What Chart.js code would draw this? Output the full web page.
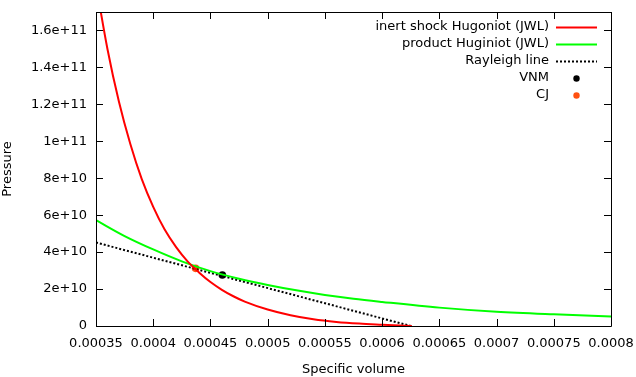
<!DOCTYPE html>
<html>
<head>
<meta charset="utf-8">
<script src="https://cdn.jsdelivr.net/npm/chart.js@4/dist/chart.umd.min.js"></script>
<style>
  html, body { margin: 0; padding: 0; background: #fff; }
</style>
</head>
<body>
<canvas id="myChart" width="636" height="377"></canvas>
<script>
// values
const inertV = [0.00035, 0.00036, 0.00037, 0.00038, 0.00039, 0.0004, 0.00041, 0.00042, 0.00043, 0.00044, 0.00045, 0.00046, 0.00047, 0.00048, 0.0005, 0.00052, 0.00054, 0.00056, 0.00058, 0.0006, 0.00062, 0.000626];
const inertP = [1.85e11, 1.5e11, 1.215e11, 9.85e10, 7.95e10, 6.45e10, 5.22e10, 4.27e10, 3.5e10, 2.9e10, 2.38e10, 1.96e10, 1.61e10, 1.32e10, 8.9e9, 5.8e9, 3.6e9, 2.2e9, 1.3e9, 7e8, 1.5e8, 0];
const productV = [0.00035, 0.000375, 0.0004, 0.000425, 0.00045, 0.000475, 0.0005, 0.000525, 0.00055, 0.000575, 0.0006, 0.00065, 0.0007, 0.00075, 0.0008];
const productP = [5.73e10, 4.87e10, 4.145e10, 3.5e10, 2.97e10, 2.56e10, 2.22e10, 1.93e10, 1.68e10, 1.475e10, 1.305e10, 9.95e9, 7.7e9, 6.3e9, 5.2e9];
const rayleighV = [0.00035, 0.000625];
const rayleighP = [4.52e10, 0];
const vnmPoint = [0.0004604, 2.76e10];
const cjPoint = [0.000437, 3.12e10];

const xTicks = [0.00035, 0.0004, 0.00045, 0.0005, 0.00055, 0.0006, 0.00065, 0.0007, 0.00075, 0.0008];
const xTickLabels = ['0.00035', '0.0004', '0.00045', '0.0005', '0.00055', '0.0006', '0.00065', '0.0007', '0.00075', '0.0008'];
const yTicks = [0, 2e10, 4e10, 6e10, 8e10, 1e11, 1.2e11, 1.4e11, 1.6e11];
const yTickLabels = ['0', '2e+10', '4e+10', '6e+10', '8e+10', '1e+11', '1.2e+11', '1.4e+11', '1.6e+11'];

function pts(xs, ys) {
  return xs.map((x, i) => ({ x: x, y: ys[i] }));
}

const FONT = 'DejaVu Sans';

// gnuplot style frame with inward ticks on all four sides
const framePlugin = {
  id: 'frame',
  afterDatasetsDraw(chart) {
    const ctx = chart.ctx;
    const a = chart.chartArea;
    const xs = chart.scales.x, ys = chart.scales.y;
    const tl = 7;
    ctx.save();
    ctx.strokeStyle = '#000';
    ctx.lineWidth = 1;
    ctx.beginPath();
    ctx.rect(a.left + 0.5, a.top + 0.5, a.right - a.left, a.bottom - a.top);
    xs.ticks.forEach(t => {
      const px = Math.round(xs.getPixelForValue(t.value)) + 0.5;
      ctx.moveTo(px, a.bottom); ctx.lineTo(px, a.bottom - tl);
      ctx.moveTo(px, a.top); ctx.lineTo(px, a.top + tl);
    });
    ys.ticks.forEach(t => {
      const py = Math.round(ys.getPixelForValue(t.value)) + 0.5;
      ctx.moveTo(a.left, py); ctx.lineTo(a.left + tl, py);
      ctx.moveTo(a.right, py); ctx.lineTo(a.right - tl, py);
    });
    ctx.stroke();
    ctx.restore();
  },
  afterDraw(chart) {
    // legend, text on the left, sample on the right
    const ctx = chart.ctx;
    const textX = 549, lineX0 = 556, lineX1 = 597, dotX = 576.5;
    ctx.save();
    ctx.font = '13px "' + FONT + '"';
    ctx.textAlign = 'right';
    ctx.textBaseline = 'middle';
    chart.data.datasets.forEach((ds, i) => {
      const y = 27 + i * 17;
      ctx.fillStyle = '#000';
      ctx.fillText(ds.label, textX, y);
      if (ds.showLine) {
        ctx.strokeStyle = ds.borderColor;
        ctx.lineWidth = ds.borderWidth;
        ctx.setLineDash(ds.borderDash || []);
        ctx.beginPath();
        ctx.moveTo(lineX0, y + 0.5);
        ctx.lineTo(lineX1, y + 0.5);
        ctx.stroke();
        ctx.setLineDash([]);
      } else {
        ctx.fillStyle = ds.backgroundColor;
        ctx.beginPath();
        ctx.arc(dotX, y + 0.5, 3.2, 0, Math.PI * 2);
        ctx.fill();
      }
    });
    ctx.restore();
  }
};

const ctx = document.getElementById('myChart');
const chart = new Chart(ctx, {
  type: 'scatter',
  data: {
    datasets: [{
      label: 'inert shock Hugoniot (JWL)',
      data: pts(inertV, inertP),
      showLine: true,
      borderColor: '#ff0000',
      borderWidth: 2,
      pointRadius: 0,
      cubicInterpolationMode: 'monotone'
    }, {
      label: 'product Huginiot (JWL)',
      data: pts(productV, productP),
      showLine: true,
      borderColor: '#00ff00',
      borderWidth: 2,
      pointRadius: 0,
      cubicInterpolationMode: 'monotone'
    }, {
      label: 'Rayleigh line',
      data: pts(rayleighV, rayleighP),
      showLine: true,
      borderColor: '#000000',
      borderWidth: 2,
      borderDash: [2, 2],
      pointRadius: 0
    }, {
      label: 'VNM',
      data: [{ x: vnmPoint[0], y: vnmPoint[1] }],
      showLine: false,
      backgroundColor: '#000000',
      borderWidth: 0,
      pointRadius: 3.8
    }, {
      label: 'CJ',
      data: [{ x: cjPoint[0], y: cjPoint[1] }],
      showLine: false,
      backgroundColor: '#ff5010',
      borderWidth: 0,
      pointRadius: 3.8
    }]
  },
  options: {
    responsive: false,
    animation: false,
    devicePixelRatio: 1,
    layout: { padding: { left: 0, right: 25, top: 12, bottom: 0 } },
    plugins: {
      legend: { display: false },
      tooltip: { enabled: false }
    },
    scales: {
      x: {
        type: 'linear',
        min: 0.00035,
        max: 0.0008,
        grid: { display: false, drawTicks: false },
        border: { display: false },
        afterBuildTicks: s => { s.ticks = xTicks.map(v => ({ value: v })); },
        afterFit: s => { s.height = 51; s.paddingLeft = 0; s.paddingRight = 0; },
        ticks: {
          padding: 10,
          maxRotation: 0,
          autoSkip: false,
          color: '#000',
          font: { family: FONT, size: 13 },
          callback: (v, i) => xTickLabels[i]
        },
        title: {
          display: true,
          text: 'Specific volume',
          color: '#000',
          padding: 0,
          font: { family: FONT, size: 13 }
        }
      },
      y: {
        type: 'linear',
        min: 0,
        max: 1.7e11,
        grid: { display: false, drawTicks: false },
        border: { display: false },
        afterBuildTicks: s => { s.ticks = yTicks.map(v => ({ value: v })); },
        afterFit: s => { s.width = 96; s.paddingTop = 0; s.paddingBottom = 0; },
        ticks: {
          padding: 9,
          autoSkip: false,
          color: '#000',
          font: { family: FONT, size: 13 },
          callback: (v, i) => yTickLabels[i]
        },
        title: {
          display: true,
          text: 'Pressure',
          color: '#000',
          padding: 0,
          font: { family: FONT, size: 13 }
        }
      }
    }
  },
  plugins: [framePlugin]
});
</script>
</body>
</html>
